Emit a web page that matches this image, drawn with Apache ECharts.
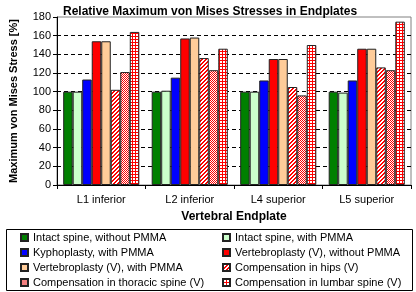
<!DOCTYPE html>
<html>
<head>
<meta charset="utf-8">
<script src="https://cdn.jsdelivr.net/npm/echarts@6/dist/echarts.min.js"></script>
<style>
  html, body { margin: 0; padding: 0; background: #fff; }
  #chart { width: 416px; height: 292px; }
</style>
</head>
<body>
<div id="chart"></div>
<script>
var categories = ['L1 inferior', 'L2 inferior', 'L4 superior', 'L5 superior'];
var yTicks = [0, 20, 40, 60, 80, 100, 120, 140, 160, 180];

var seriesNames = [
    'Intact spine, without PMMA',
    'Intact spine, with PMMA',
    'Kyphoplasty, with PMMA',
    'Vertebroplasty (V), without PMMA',
    'Vertebroplasty (V), with PMMA',
    'Compensation in hips (V)',
    'Compensation in thoracic spine (V)',
    'Compensation in lumbar spine (V)'
];
var intactNoPmma = [100, 100, 100, 100];
var intactPmma   = [100, 101, 100, 99];
var kypho        = [113, 115, 112, 112];
var vertNoPmma   = [154, 157, 135, 146];
var vertPmma     = [154, 158, 135, 146];
var hips         = [102, 136, 105, 126];
var thoracic     = [121, 123, 96, 123];
var lumbar       = [164, 146, 150, 175];

// small pattern tiles for the textured bars
function makeTile(size, isRed) {
    var c = document.createElement('canvas');
    c.width = size; c.height = size;
    var ctx = c.getContext('2d');
    for (var x = 0; x < size; x++) {
        for (var y = 0; y < size; y++) {
            ctx.fillStyle = isRed(x, y) ? '#ff0000' : '#ffffff';
            ctx.fillRect(x, y, 1, 1);
        }
    }
    return { image: c, repeat: 'repeat' };
}
var hatchFill = makeTile(4, function (x, y) { return (x + y) % 4 < 2; });
var checkFill = makeTile(2, function (x, y) { return (x + y) % 2 === 0; });
var plaidFill = makeTile(3, function (x, y) { return x === 0 || y === 0; });

var fills = ['#008000', '#ccffcc', '#0000ff', '#ff0000', '#ffcc99', hatchFill, checkFill, plaidFill];
var values = [intactNoPmma, intactPmma, kypho, vertNoPmma, vertPmma, hips, thoracic, lumbar];

var chartDom = document.getElementById('chart');
var myChart = echarts.init(chartDom);

var series = values.map(function (d, i) {
    return {
        name: seriesNames[i],
        type: 'bar',
        data: d,
        barGap: '0%',
        barCategoryGap: '14%',
        itemStyle: {
            color: fills[i],
            borderColor: '#222',
            borderWidth: 1
        },
        emphasis: { disabled: true }
    };
});

var legendText = {
    fontFamily: 'Liberation Sans',
    fontSize: 11,
    color: '#000'
};

var option = {
    animation: false,
    title: {
        text: 'Relative Maximum von Mises Stresses in Endplates',
        left: 58,
        top: 1,
        textStyle: {
            fontFamily: 'Liberation Sans',
            fontSize: 12,
            fontWeight: 'bold',
            color: '#000'
        }
    },
    legend: [
        {
            orient: 'vertical',
            left: 20,
            top: 232,
            height: 60,
            padding: 0,
            icon: 'rect',
            itemWidth: 7,
            itemHeight: 7,
            itemGap: 4,
            data: [
                seriesNames[0], seriesNames[2], seriesNames[4],
                { name: seriesNames[6], itemStyle: { color: '#f48080' } }
            ],
            textStyle: legendText
        },
        {
            orient: 'vertical',
            left: 222,
            top: 232,
            height: 60,
            padding: 0,
            icon: 'rect',
            itemWidth: 7,
            itemHeight: 7,
            itemGap: 4,
            data: [seriesNames[1], seriesNames[3], seriesNames[5], seriesNames[7]],
            textStyle: legendText
        }
    ],
    graphic: [
        {
            type: 'rect',
            shape: { x: 6.5, y: 229.5, width: 406, height: 61 },
            style: { fill: 'none', stroke: '#000', lineWidth: 1 },
            silent: true
        }
    ],
    grid: {
        left: 42,
        right: 5,
        top: 17,
        bottom: 107,
        show: true,
        borderColor: '#808080',
        borderWidth: 1
    },
    xAxis: {
        type: 'category',
        data: categories,
        name: 'Vertebral Endplate',
        nameLocation: 'middle',
        nameGap: 26,
        nameTextStyle: {
            fontFamily: 'Liberation Sans',
            fontSize: 12,
            fontWeight: 'bold',
            color: '#000'
        },
        axisLine: { lineStyle: { color: '#000' } },
        axisTick: { show: true, length: 4, lineStyle: { color: '#000' } },
        axisLabel: {
            fontFamily: 'Liberation Sans',
            fontSize: 11,
            color: '#000',
            margin: 9
        }
    },
    yAxis: {
        type: 'value',
        min: yTicks[0],
        max: yTicks[yTicks.length - 1],
        interval: 20,
        name: 'Maximum von Mises Stress [%]',
        nameLocation: 'middle',
        nameGap: 38,
        nameTextStyle: {
            fontFamily: 'Liberation Sans',
            fontSize: 11,
            fontWeight: 'bold',
            color: '#000'
        },
        axisLine: { show: true, lineStyle: { color: '#000' } },
        axisTick: { show: true, length: 4, lineStyle: { color: '#000' } },
        axisLabel: {
            fontFamily: 'Liberation Sans',
            fontSize: 11,
            color: '#000',
            margin: 6
        },
        splitLine: {
            show: true,
            showMinLine: false,
            showMaxLine: false,
            lineStyle: { color: '#000', type: [4, 3], width: 1 }
        }
    },
    series: series
};

option && myChart.setOption(option);
new ResizeObserver(() => myChart.resize()).observe(chartDom);
</script>
</body>
</html>
